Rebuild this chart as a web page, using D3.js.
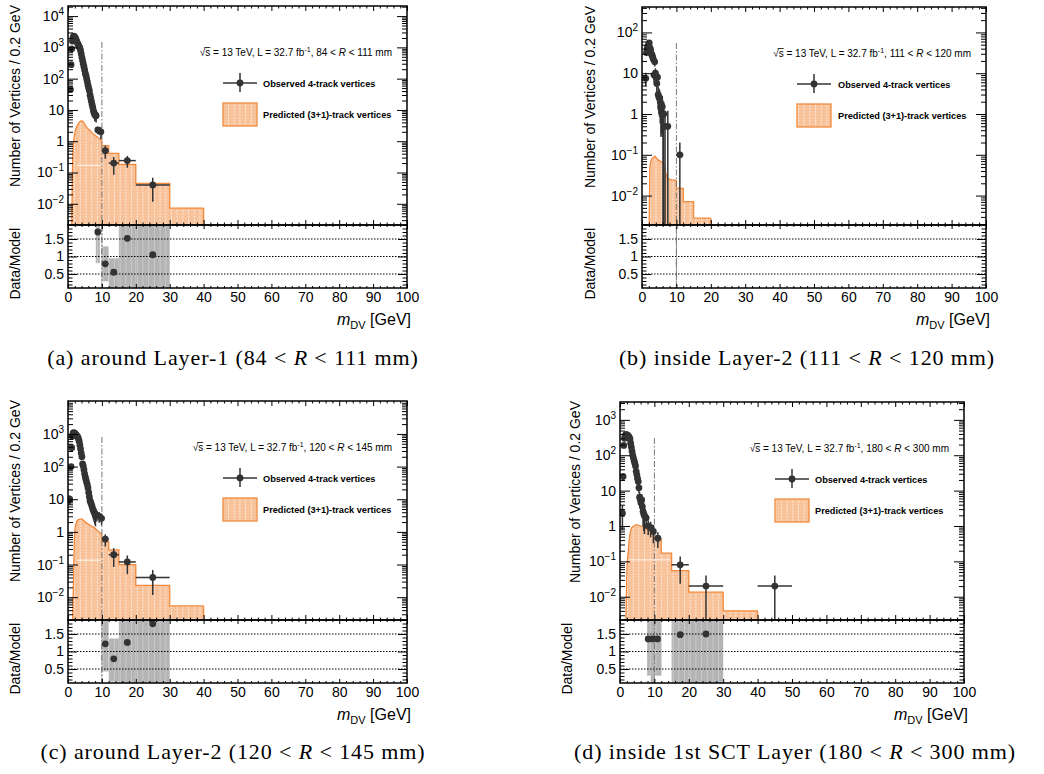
<!DOCTYPE html>
<html><head><meta charset="utf-8">
<script src="https://cdn.jsdelivr.net/npm/d3@7"></script>
<style>
body{margin:0;background:#fff}
svg{display:block}
text{font-family:"Liberation Sans",Arial,Helvetica,sans-serif;fill:#000}
</style>
</head><body>
<svg id="c" width="1044" height="774"></svg>
<script>
// ---------------- DATA ----------------
// (a) 84 < R < 111 mm
const aObsX = [0.7,0.9,1.1,1.3,1.5,1.7,1.9,2.1,2.3,2.5,2.7,2.9,3.1,3.3,3.5,3.7,3.9,4.1,4.3,4.5,4.7,4.9,5.1,5.3,5.5,5.7,5.9,6.1,6.3,6.5,6.7,6.9,7.1,7.3,7.5,7.7,7.9,8.1,8.3];
const aObsY = [45,280,900,1600,2100,2300,2200,2050,1850,1650,1450,1300,1150,1050,950,800,620,480,380,300,240,190,150,125,100,80,62,50,42,30,24,19,15,12,9.5,8,7,7,6.5];
const aMidX = [8.8,9.7,11,13.5,17.5,25];
const aMidY = [2.3,2.0,0.5,0.2,0.24,0.04];
const aMidW = [1.2,0.6,2,3,5,10];
const aPredX = [1.1,1.3,1.6,2.0,2.5,3.0,3.5,4.0,4.5,5.0,5.5,6.0,6.5,7.0,7.5,8.0,8.5,9.0,9.5,10.0];
const aPredY = [0.002,0.1,0.8,1.8,2.8,3.6,4.2,4.5,4.2,3.4,2.8,2.4,2.2,1.9,1.7,1.55,1.4,1.25,1.15,1.05];
const aStepE = [10,12,15,20,30,40];
const aStepY = [0.72,0.41,0.18,0.045,0.0073];
const aErrLine = [2.6,10,0.17];
const aRatioX = [8.8,11,13.5,17.5,25];
const aRatioY = [1.70,0.79,0.55,1.52,1.05];
const aBandX0 = [8.2,10,12,15,20];
const aBandX1 = [9.4,12,15,20,30];
const aBandLo = [0.81,0.29,0,0,0];
const aBandHi = [2,1.29,0.95,2,2];

// (b) 111 < R < 120 mm
const bObsX = [1.1,1.3,1.5,1.7,1.9,2.1,2.3,2.5,2.7,2.9,3.1,3.3,3.5,3.7,3.9,4.1,4.3,4.5,4.7,4.9,5.1,5.3,5.5,5.7,5.9,6.1,6.3,6.7,7.5];
const bObsY = [7.5,32,40,45,50,55,42,38,30,28,25,22,9,19,10,8,5.6,8,3,2.6,2.4,2.0,1.5,1.6,1.5,1.0,1.0,0.5,0.5];
const bMidX = [11];
const bMidY = [0.1];
const bMidW = [2];
const bPredX = [2.1,2.3,2.7,3.2,3.8,4.3,4.8,5.5,6.0,6.5,7.0,7.4,8.0,9.0,10.0];
const bPredY = [0.002,0.05,0.075,0.085,0.092,0.08,0.074,0.068,0.062,0.05,0.033,0.027,0.025,0.024,0.024];
const bStepE = [10,12,15,20];
const bStepY = [0.015,0.0071,0.0028];
const bErrLine = null;
const bRatioX = [], bRatioY = [];
const bBandX0 = [], bBandX1 = [], bBandLo = [], bBandHi = [];

// (c) 120 < R < 145 mm
const cObsX = [0.5,0.9,1.1,1.3,1.5,1.7,1.9,2.1,2.3,2.5,2.7,2.9,3.1,3.3,3.5,3.7,3.9,4.1,4.3,4.5,4.7,4.9,5.1,5.3,5.5,5.7,5.9,6.1,6.3,6.5,6.7,6.9,7.1,7.3,7.5,7.7,7.9,8.1];
const cObsY = [10,100,380,850,1050,1100,1050,1000,950,900,850,800,700,600,460,350,260,200,120,105,80,60,48,40,33,28,22,16,12,9,8,7,6,5,4.5,4,3.6,3.3];
const cMidX = [8.5,9.2,9.9,11,13.5,17.5,25];
const cMidY = [3.2,3.0,2.6,0.6,0.2,0.12,0.04];
const cMidW = [0.5,0.5,0.5,2,3,5,10];
const cPredX = [1.4,1.7,2.0,2.3,2.6,3.0,3.5,4.0,4.5,5.0,5.7,6.5,7.5,8.5,9.2,10.0];
const cPredY = [0.002,0.1,1.0,1.7,2.1,2.35,2.45,2.5,2.3,2.05,1.8,1.6,1.4,1.15,1.0,0.85];
const cStepE = [10,12,15,20,30,40];
const cStepY = [0.5,0.28,0.1,0.023,0.0054];
const cErrLine = [2.6,10,0.136];
const cRatioX = [11,13.5,17.5,25];
const cRatioY = [1.22,0.79,1.26,1.79];
const cBandX0 = [10,12,15,20];
const cBandX1 = [12,15,20,30];
const cBandLo = [0.43,0.14,0,0];
const cBandHi = [2,1.37,2,2];

// (d) 180 < R < 300 mm
const dObsX = [0.7,0.9,1.1,1.3,1.5,1.7,1.9,2.1,2.3,2.5,2.7,2.9,3.1,3.3,3.5,3.7,3.9,4.1,4.3,4.5,4.7,4.9,5.1,5.3,5.5,5.7,5.9,6.1,6.3,6.5,6.7,6.9,7.1];
const dObsY = [2.3,25,190,300,360,380,380,370,360,340,320,290,220,170,130,100,83,70,60,50,35,28,22,18,12,6.5,5.5,4.5,5.5,3.5,2.6,2.2,2.0];
const dMidX = [7.6,8.2,8.9,9.7,11,17.5,25,45];
const dMidY = [1.7,1.0,0.9,0.7,0.45,0.08,0.02,0.02];
const dMidW = [1,1,1,1,2,5,10,10];
const dPredX = [1.7,2.0,2.4,2.8,3.3,4.0,4.8,5.5,6.5,7.3,8.0,8.7,9.4,10.0];
const dPredY = [0.002,0.05,0.2,0.5,0.85,1.0,1.1,1.05,0.95,0.87,0.78,0.7,0.6,0.52];
const dStepE = [10,12,15,20,30,40];
const dStepY = [0.42,0.17,0.055,0.0135,0.004];
const dErrLine = [2.4,14.6,0.11];
const dRatioX = [8.2,9.5,10.9,17.5,25];
const dRatioY = [1.36,1.36,1.36,1.48,1.5];
const dBandX0 = [7.9,8.9,15,20];
const dBandX1 = [12.1,10,20,30];
const dBandLo = [0.31,0,0,0];
const dBandHi = [2,0.4,2,2];

const xTicks = [0,10,20,30,40,50,60,70,80,90,100];
const ratioTicks = [0.5,1,1.5];
const rangeLo = [84,111,120,180];
const rangeHi = [111,120,145,300];
const captionHead = ["(a) around Layer-1","(b) inside Layer-2","(c) around Layer-2","(d) inside 1st SCT Layer"];

// ---------------- LAYOUT ----------------
const panels = [
  {L:68,R:407,T:6,M:225,B:288,yDom:[0.0021,21000],eMin:-2,eMax:4,ylabX:20,rlabX:20,legX:223,legT:263,capX:233,capY:365,
   obsX:aObsX,obsY:aObsY,midX:aMidX,midY:aMidY,midW:aMidW,predX:aPredX,predY:aPredY,stepE:aStepE,stepY:aStepY,errLine:aErrLine,
   rX:aRatioX,rY:aRatioY,bx0:aBandX0,bx1:aBandX1,blo:aBandLo,bhi:aBandHi},
  {L:642,R:986,T:7,M:225,B:288,yDom:[0.0019,420],eMin:-2,eMax:2,ylabX:595,rlabX:595,legX:797,legT:838,capX:807,capY:365,
   obsX:bObsX,obsY:bObsY,midX:bMidX,midY:bMidY,midW:bMidW,predX:bPredX,predY:bPredY,stepE:bStepE,stepY:bStepY,errLine:bErrLine,
   rX:bRatioX,rY:bRatioY,bx0:bBandX0,bx1:bBandX1,blo:bBandLo,bhi:bBandHi},
  {L:68,R:407,T:401,M:620,B:683,yDom:[0.002,10200],eMin:-2,eMax:3,ylabX:20,rlabX:20,legX:223,legT:263,capX:233,capY:759,
   obsX:cObsX,obsY:cObsY,midX:cMidX,midY:cMidY,midW:cMidW,predX:cPredX,predY:cPredY,stepE:cStepE,stepY:cStepY,errLine:cErrLine,
   rX:cRatioX,rY:cRatioY,bx0:cBandX0,bx1:cBandX1,blo:cBandLo,bhi:cBandHi},
  {L:620,R:964,T:402,M:620,B:683,yDom:[0.0022,3200],eMin:-2,eMax:3,ylabX:580,rlabX:572,legX:775,legT:815,capX:795,capY:759,
   obsX:dObsX,obsY:dObsY,midX:dMidX,midY:dMidY,midW:dMidW,predX:dPredX,predY:dPredY,stepE:dStepE,stepY:dStepY,errLine:dErrLine,
   rX:dRatioX,rY:dRatioY,bx0:dBandX0,bx1:dBandX1,blo:dBandLo,bhi:dBandHi}
];

const svg = d3.select('#c');
svg.append('rect').attr('width',1044).attr('height',774).attr('fill','#fff');
const defs = svg.append('defs');
const ORANGE = '#f28a3d', FILL = '#f8c29a', DARK = '#333';
{
  const p = defs.append('pattern').attr('id','hatch').attr('patternUnits','userSpaceOnUse').attr('width',5.7).attr('height',3);
  p.append('rect').attr('width',5.7).attr('height',3).attr('fill',FILL);
  p.append('line').attr('x1',0.5).attr('x2',0.5).attr('y1',0).attr('y2',1.8).attr('stroke','#fff').attr('stroke-width',0.8).attr('opacity',0.85);
  const g = defs.append('pattern').attr('id','ghatch').attr('patternUnits','userSpaceOnUse').attr('width',5.7).attr('height',3);
  g.append('rect').attr('width',5.7).attr('height',3).attr('fill','#b4b4b4');
  g.append('line').attr('x1',0.5).attr('x2',0.5).attr('y1',0).attr('y2',3).attr('stroke','#cfcfcf').attr('stroke-width',0.8);
}

function supText(sel, base, exp, size){
  sel.append('tspan').text(base);
  sel.append('tspan').attr('dy',-6).attr('font-size',size).text(exp);
}

panels.forEach((P, pi) => {
  const x = d3.scaleLinear().domain([0,100]).range([P.L,P.R]);
  const y = d3.scaleLog().domain(P.yDom).range([P.M,P.T]);
  const yr = d3.scaleLinear().domain([0.1,1.9]).range([P.B,P.M]);
  const g = svg.append('g');
  const cid = 'clipM'+pi, rid = 'clipR'+pi;
  defs.append('clipPath').attr('id',cid).append('rect').attr('x',P.L).attr('y',P.T).attr('width',P.R-P.L).attr('height',P.M-P.T);
  defs.append('clipPath').attr('id',rid).append('rect').attr('x',P.L).attr('y',P.M).attr('width',P.R-P.L).attr('height',P.B-P.M);

  // ---- prediction histogram ----
  const main = g.append('g').attr('clip-path',`url(#${cid})`);
  const smooth = P.predX.map((v,i)=>[v,P.predY[i]]);
  const steps = P.stepE.map((e,i)=>[e, P.stepY[Math.min(i,P.stepY.length-1)]]);
  const lastE = P.stepE[P.stepE.length-1];
  const areaS = d3.area().x(d=>x(d[0])).y0(P.M+2).y1(d=>y(d[1])).curve(d3.curveMonotoneX);
  const areaT = d3.area().x(d=>x(d[0])).y0(P.M+2).y1(d=>y(d[1])).curve(d3.curveStepAfter);
  main.append('path').attr('d',areaS(smooth)).attr('fill','url(#hatch)');
  main.append('path').attr('d',areaT(steps)).attr('fill','url(#hatch)');
  if (P.errLine){
    main.append('line').attr('x1',x(P.errLine[0])).attr('x2',x(P.errLine[1]))
      .attr('y1',y(P.errLine[2])).attr('y2',y(P.errLine[2])).attr('stroke','#fff').attr('stroke-width',1).attr('opacity',0.9);
  }
  const lineS = d3.line().x(d=>x(d[0])).y(d=>y(d[1])).curve(d3.curveMonotoneX);
  const lineT = d3.line().x(d=>x(d[0])).y(d=>y(d[1])).curve(d3.curveStepAfter);
  const stroke = s => s.attr('fill','none').attr('stroke',ORANGE).attr('stroke-width',1.3);
  main.append('path').attr('d',lineS(smooth)).call(stroke);
  main.append('path').attr('d',lineT(steps)).call(stroke);
  main.append('line').attr('x1',x(P.predX[0])).attr('x2',x(P.predX[0])).attr('y1',P.M+2).attr('y2',y(P.predY[0])).call(stroke);
  main.append('line').attr('x1',x(10)).attr('x2',x(10)).attr('y1',y(P.predY[P.predY.length-1])).attr('y2',y(P.stepY[0])).call(stroke);
  main.append('line').attr('x1',x(lastE)).attr('x2',x(lastE)).attr('y1',y(P.stepY[P.stepY.length-1])).attr('y2',P.M+2).call(stroke);

  // dash-dot line at 10 GeV
  g.append('line').attr('x1',x(10)).attr('x2',x(10)).attr('y1',P.T+36).attr('y2',P.B)
    .attr('stroke','#777').attr('stroke-width',1).attr('stroke-dasharray','6,2,1.5,2');

  // ---- observed points ----
  const pts = [];
  P.obsX.forEach((v,i)=>pts.push({x:v,y:P.obsY[i],w:0.2}));
  P.midX.forEach((v,i)=>pts.push({x:v,y:P.midY[i],w:P.midW[i]}));
  const obsG = g.append('g').attr('clip-path',`url(#${cid})`);
  pts.forEach(p=>{
    const k = p.w/0.2;
    const err = Math.sqrt(p.y/k);
    const lo = p.y-err, hi = p.y+err;
    const ylo = lo>0 ? y(lo) : P.M+2;
    obsG.append('line').attr('x1',x(p.x)).attr('x2',x(p.x)).attr('y1',ylo).attr('y2',y(hi)).attr('stroke',DARK).attr('stroke-width',1.5);
    if (p.w>=1) obsG.append('line').attr('x1',x(p.x-p.w/2)).attr('x2',x(p.x+p.w/2)).attr('y1',y(p.y)).attr('y2',y(p.y)).attr('stroke',DARK).attr('stroke-width',1.5);
  });
  obsG.selectAll('circle.o').data(pts).join('circle').attr('class','o')
    .attr('cx',d=>x(d.x)).attr('cy',d=>y(d.y)).attr('r',3.4).attr('fill',DARK);

  // ---- ratio panel ----
  const rg = g.append('g').attr('clip-path',`url(#${rid})`);
  P.bx0.forEach((v,i)=>{
    rg.append('rect').attr('x',x(v)).attr('width',x(P.bx1[i])-x(v))
      .attr('y',yr(P.bhi[i])).attr('height',yr(P.blo[i])-yr(P.bhi[i])).attr('fill','url(#ghatch)');
  });
  ratioTicks.forEach(t=>{
    rg.append('line').attr('x1',P.L).attr('x2',P.R).attr('y1',yr(t)).attr('y2',yr(t))
      .attr('stroke','#000').attr('stroke-width',1).attr('stroke-dasharray','1.5,1.5');
  });
  rg.append('line').attr('x1',x(10)).attr('x2',x(10)).attr('y1',P.M).attr('y2',P.B)
    .attr('stroke','#777').attr('stroke-width',1).attr('stroke-dasharray','6,2,1.5,2');
  rg.selectAll('circle.r').data(P.rX.map((v,i)=>[v,P.rY[i]])).join('circle').attr('class','r')
    .attr('cx',d=>x(d[0])).attr('cy',d=>yr(d[1])).attr('r',3.4).attr('fill',DARK);

  // ---- axes ----
  const minorX = d3.range(0,101,2).filter(v=>v%10);
  const ax = (gen, yPos, len, vals, labels) => {
    const a = g.append('g').attr('transform',`translate(0,${yPos})`)
      .call(gen(x).tickValues(vals).tickSizeInner(-len).tickSizeOuter(0).tickPadding(4).tickFormat(labels?d3.format('d'):''));
    a.select('.domain').remove();
    a.selectAll('line').attr('stroke','#000').attr('stroke-width',1);
    return a;
  };
  ax(d3.axisTop, P.T, 5, xTicks); ax(d3.axisTop, P.T, 2.5, minorX);
  ax(d3.axisBottom, P.M, 5, xTicks); ax(d3.axisBottom, P.M, 2.5, minorX);
  ax(d3.axisTop, P.M, 4, xTicks); ax(d3.axisTop, P.M, 2, minorX);
  const xl = ax(d3.axisBottom, P.B, 4, xTicks, true); ax(d3.axisBottom, P.B, 2, minorX);
  xl.selectAll('text').attr('font-size',14).attr('font-family','Liberation Sans, Arial, sans-serif').attr('fill','#000');

  // log y axis
  const majors = d3.range(P.eMin, P.eMax+1).map(e=>Math.pow(10,e));
  const minors = [];
  for (let e=P.eMin-1; e<=P.eMax; e++) for (let m=2;m<=9;m++){const v=m*Math.pow(10,e); if(v>=P.yDom[0]&&v<=P.yDom[1]) minors.push(v);}
  const ay = (gen, xPos, len, vals, lab) => {
    const a = g.append('g').attr('transform',`translate(${xPos},0)`)
      .call(gen(y).tickValues(vals).tickSizeInner(-len).tickSizeOuter(0).tickPadding(4).tickFormat(''));
    a.select('.domain').remove();
    a.selectAll('line').attr('stroke','#000').attr('stroke-width',1);
    if (lab){
      a.selectAll('.tick text').each(function(d){
        const e = Math.round(Math.log10(d));
        const t = d3.select(this).attr('font-size',14).attr('fill','#000').attr('font-family','Liberation Sans, Arial, sans-serif');
        if (e===0) t.text('1'); else if (e===1) t.text('10');
        else supText(t,'10', e<0?('\u2212'+(-e)):String(e), 10);
      });
    }
  };
  ay(d3.axisLeft, P.L, 10, majors, true); ay(d3.axisLeft, P.L, 5, minors);
  ay(d3.axisRight, P.R, 10, majors); ay(d3.axisRight, P.R, 5, minors);

  // ratio y axis
  const rMin = d3.range(2,19).map(v=>v/10).filter(v=>Math.abs(v*2-Math.round(v*2))>1e-6);
  const ayr = (gen, xPos, len, vals, lab) => {
    const a = g.append('g').attr('transform',`translate(${xPos},0)`)
      .call(gen(yr).tickValues(vals).tickSizeInner(-len).tickSizeOuter(0).tickPadding(4).tickFormat(lab?(d=>d===1?'1':String(d)):''));
    a.select('.domain').remove();
    a.selectAll('line').attr('stroke','#000').attr('stroke-width',1);
    a.selectAll('text').attr('font-size',14).attr('fill','#000').attr('font-family','Liberation Sans, Arial, sans-serif');
  };
  ayr(d3.axisLeft, P.L, 9, ratioTicks, true); ayr(d3.axisLeft, P.L, 4.5, rMin);
  ayr(d3.axisRight, P.R, 9, ratioTicks); ayr(d3.axisRight, P.R, 4.5, rMin);

  // frames
  g.append('rect').attr('x',P.L).attr('y',P.T).attr('width',P.R-P.L).attr('height',P.M-P.T).attr('fill','none').attr('stroke','#000').attr('stroke-width',1.5);
  g.append('rect').attr('x',P.L).attr('y',P.M).attr('width',P.R-P.L).attr('height',P.B-P.M).attr('fill','none').attr('stroke','#000').attr('stroke-width',1.5);

  // axis titles
  g.append('text').attr('transform',`translate(${P.ylabX},${P.T-1}) rotate(-90)`).attr('text-anchor','end')
    .attr('font-size',14).text('Number of Vertices / 0.2 GeV');
  g.append('text').attr('transform',`translate(${P.rlabX},${P.M+3}) rotate(-90)`).attr('text-anchor','end')
    .attr('font-size',14).text('Data/Model');
  const xt = g.append('text').attr('x',P.R+4).attr('y',P.B+37).attr('text-anchor','end').attr('font-size',16);
  xt.append('tspan').attr('font-style','italic').text('m');
  xt.append('tspan').attr('font-size',11).attr('dy',4).text('DV');
  xt.append('tspan').attr('dy',-4).text(' [GeV]');

  // legend
  const lt = g.append('text').attr('x',P.R-15).attr('y',P.T+50).attr('text-anchor','end').attr('font-size',10);
  lt.append('tspan').text('\u221As = 13 TeV, L = 32.7 fb');
  lt.append('tspan').attr('font-size',7).attr('dy',-4).text('-1');
  lt.append('tspan').attr('dy',4).text(`, ${rangeLo[pi]} < `);
  lt.append('tspan').attr('font-style','italic').text('R');
  lt.append('tspan').text(` < ${rangeHi[pi]} mm`);
  try {
    const n = lt.node();
    const s0 = n.getStartPositionOfChar(1), s1 = n.getEndPositionOfChar(1);
    g.append('line').attr('x1',s0.x-1).attr('x2',s1.x).attr('y1',P.T+41.5).attr('y2',P.T+41.5).attr('stroke','#000').attr('stroke-width',0.8);
  } catch(e) {}
  const lx0 = P.legX, lx1 = P.legX+34, lcx = (lx0+lx1)/2, lcy = P.T+77;
  g.append('line').attr('x1',lx0).attr('x2',lx1).attr('y1',lcy).attr('y2',lcy).attr('stroke',DARK).attr('stroke-width',1.5);
  g.append('line').attr('x1',lcx).attr('x2',lcx).attr('y1',lcy-10).attr('y2',lcy+9).attr('stroke',DARK).attr('stroke-width',1.5);
  g.append('circle').attr('cx',lcx).attr('cy',lcy).attr('r',3.4).attr('fill',DARK);
  g.append('text').attr('x',P.legT).attr('y',lcy+3.5).attr('font-size',9.2).attr('font-weight','bold').attr('fill','#222').text('Observed 4-track vertices');
  g.append('rect').attr('x',lx0).attr('y',P.T+97).attr('width',34).attr('height',23).attr('fill','url(#hatch)').attr('stroke',ORANGE).attr('stroke-width',1.3);
  g.append('text').attr('x',P.legT).attr('y',P.T+112).attr('font-size',9.2).attr('font-weight','bold').attr('fill','#222').text('Predicted (3+1)-track vertices');

  // caption
  const cap = g.append('text').attr('x',P.capX).attr('y',P.capY).attr('text-anchor','middle')
    .attr('font-size',22).attr('letter-spacing',0.9).style('font-family','"Liberation Serif","DejaVu Serif",serif');
  cap.append('tspan').text(`${captionHead[pi]} (${rangeLo[pi]} < `);
  cap.append('tspan').attr('font-style','italic').text('R');
  cap.append('tspan').text(` < ${rangeHi[pi]} mm)`);
});
</script>
</body></html>
